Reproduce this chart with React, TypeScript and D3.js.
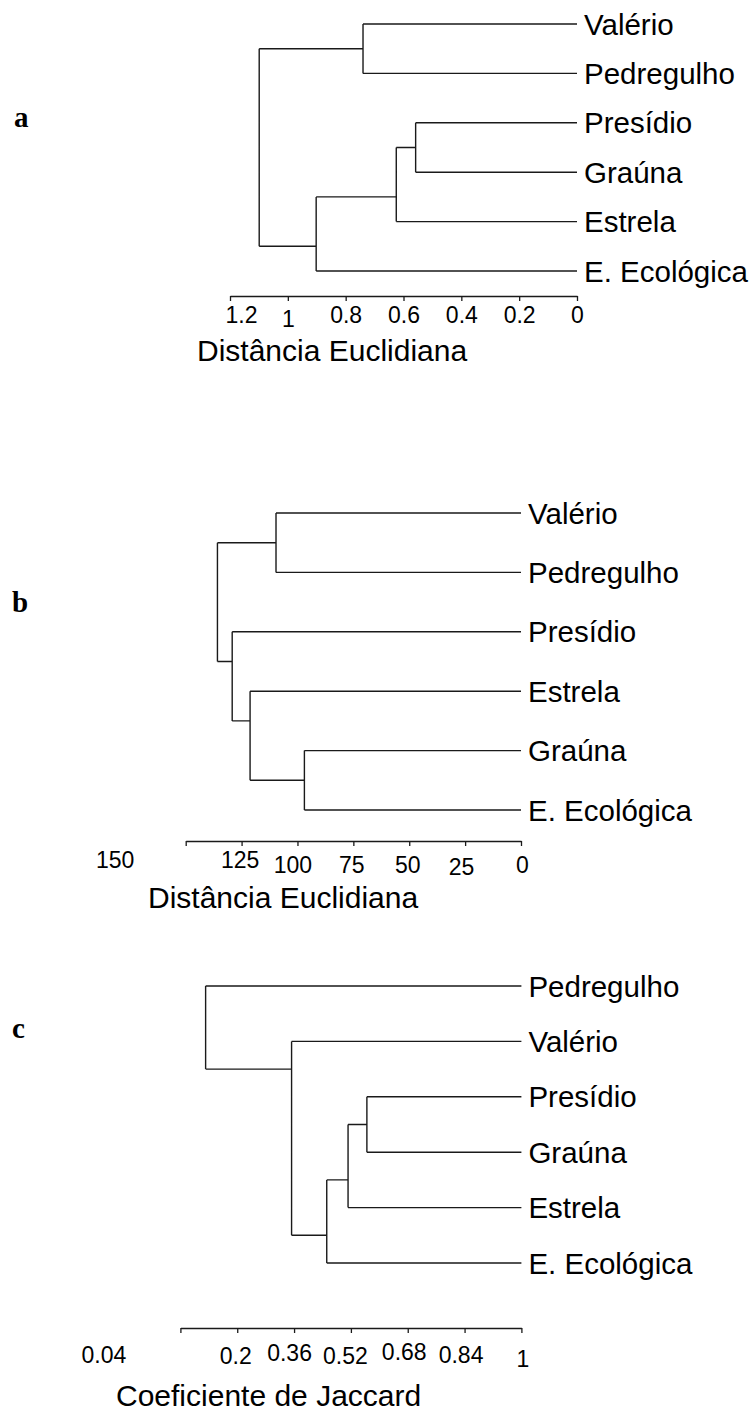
import React, { useEffect, useRef } from 'react';
import * as d3 from 'd3';

// leaf order (top to bottom) and merges [childA, childB, height] for each panel
// "#k" refers to the k-th merge of the same panel
const aLeaves = ['Valério', 'Pedregulho', 'Presídio', 'Graúna', 'Estrela', 'E. Ecológica'];
const aMerges: [string, string, number][] = [
    ['Presídio', 'Graúna', 0.558],
    ['#0', 'Estrela', 0.625],
    ['Valério', 'Pedregulho', 0.74],
    ['#1', 'E. Ecológica', 0.902],
    ['#2', '#3', 1.099],
];
const aTicks = [1.2, 1, 0.8, 0.6, 0.4, 0.2, 0];

const bLeaves = ['Valério', 'Pedregulho', 'Presídio', 'Estrela', 'Graúna', 'E. Ecológica'];
const bMerges: [string, string, number][] = [
    ['Graúna', 'E. Ecológica', 96.9],
    ['Valério', 'Pedregulho', 109.6],
    ['Estrela', '#0', 121.2],
    ['Presídio', '#2', 129.2],
    ['#1', '#3', 135.8],
];
const bTicks = [150, 125, 100, 75, 50, 25, 0];

const cLeaves = ['Pedregulho', 'Valério', 'Presídio', 'Graúna', 'Estrela', 'E. Ecológica'];
const cMerges: [string, string, number][] = [
    ['Presídio', 'Graúna', 0.565],
    ['#0', 'Estrela', 0.512],
    ['#1', 'E. Ecológica', 0.452],
    ['Valério', '#2', 0.353],
    ['Pedregulho', '#3', 0.111],
];
const cTicks = [0.04, 0.2, 0.36, 0.52, 0.68, 0.84, 1];

const sans = "'Liberation Sans', Arial, Helvetica, sans-serif";
const serif = "'Liberation Serif', 'Times New Roman', serif";
const ink = '#1a1a1a';

// panel layout
const panels = [
    {
        key: 'a', leaves: aLeaves, merges: aMerges, ticks: aTicks, leafValue: 0,
        xDomain: [1.2, 0], xRange: [230, 577], yRange: [24, 271],
        axisY: 296, title: 'Distância Euclidiana', titleX: 197, titleY: 361,
        letterX: 14, letterY: 127,
        // [dx, baseline below axis] for each tick label
        nudge: [[11, 27], [0, 31], [0, 27], [0, 27], [0, 27], [0, 27], [0, 27]],
    },
    {
        key: 'b', leaves: bLeaves, merges: bMerges, ticks: bTicks, leafValue: 0,
        xDomain: [150, 0], xRange: [185.7, 521], yRange: [513, 810],
        axisY: 841, title: 'Distância Euclidiana', titleX: 148, titleY: 908,
        letterX: 12, letterY: 612,
        nudge: [[-71, 27], [-2, 27], [-5, 32], [-2, 32], [-2, 32], [-4, 34], [1, 32]],
    },
    {
        key: 'c', leaves: cLeaves, merges: cMerges, ticks: cTicks, leafValue: 1,
        xDomain: [0.04, 1], xRange: [180.4, 521.4], yRange: [986, 1263],
        axisY: 1328, title: 'Coeficiente de Jaccard', titleX: 116, titleY: 1406,
        letterX: 12, letterY: 1038,
        nudge: [[-77, 35], [-2, 36], [-5, 33], [-6, 36], [-4, 32], [-4, 35], [1, 39]],
    },
];

type Node = { lo: number; hi: number; y: number; h: number; kids: Node[] };

function buildTree(leaves: string[], merges: [string, string, number][], leafValue: number) {
    const nodes: Node[] = [];
    const ref = (c: string): Node => {
        if (c.startsWith('#')) return nodes[+c.slice(1)];
        const i = leaves.indexOf(c);
        return { lo: i, hi: i, y: i, h: leafValue, kids: [] };
    };
    merges.forEach(([a, b, h]) => {
        let A = ref(a), B = ref(b);
        if (A.lo > B.lo) [A, B] = [B, A];
        // the joining line leaves the bracket where the two child groups meet
        nodes.push({ lo: A.lo, hi: B.hi, y: (A.hi + B.lo) / 2, h, kids: [A, B] });
    });
    return nodes;
}

function Axis({ scale, ticks, y, nudge }: any) {
    const ref = useRef<SVGGElement>(null);
    useEffect(() => {
        const g = d3.select(ref.current);
        g.call(d3.axisBottom(scale).tickValues(ticks).tickSize(5).tickSizeOuter(0)
            .tickFormat((d: any) => String(d)) as any);
        g.attr('font-size', null).attr('font-family', null);
        g.select('.domain').attr('stroke', ink).attr('stroke-width', 1.3);
        g.selectAll('.tick line').attr('stroke', ink).attr('stroke-width', 1.3);
        g.selectAll('.tick text')
            .attr('font-family', sans)
            .attr('font-size', 23)
            .attr('fill', '#000')
            .attr('dy', null)
            .attr('x', (d, i) => nudge[i][0])
            .attr('y', (d, i) => nudge[i][1]);
    }, []);
    return <g ref={ref} transform={`translate(0,${y})`} />;
}

function Panel({ p }: any) {
    const x = d3.scaleLinear().domain(p.xDomain).range(p.xRange);
    const y = d3.scaleLinear().domain([0, p.leaves.length - 1]).range(p.yRange);
    const nodes = buildTree(p.leaves, p.merges, p.leafValue);
    const path = d3.path();
    nodes.forEach(n => {
        const [A, B] = n.kids;
        path.moveTo(x(n.h), y(A.y));
        path.lineTo(x(n.h), y(B.y));
        n.kids.forEach(k => {
            path.moveTo(x(k.h), y(k.y));
            path.lineTo(x(n.h), y(k.y));
        });
    });
    return (
        <g>
            <path d={path.toString()} fill="none" stroke={ink} strokeWidth={1.4} />
            {p.leaves.map((l: string, i: number) => (
                <text key={l} x={x(p.leafValue) + 7} y={y(i)} dy="0.36em"
                    fontFamily={sans} fontSize={29.5} fill="#000">{l}</text>
            ))}
            <Axis scale={x} ticks={p.ticks} y={p.axisY} nudge={p.nudge} />
            <text x={p.titleX} y={p.titleY} fontFamily={sans} fontSize={30} fill="#000">{p.title}</text>
            <text x={p.letterX} y={p.letterY} fontFamily={serif} fontWeight="bold" fontSize={29} fill="#000">{p.key}</text>
        </g>
    );
}

export default function App() {
    return (
        <svg width={752} height={1412} style={{ position: 'absolute', left: 0, top: 0, background: '#fff' }}>
            {panels.map(p => <Panel key={p.key} p={p} />)}
        </svg>
    );
}
